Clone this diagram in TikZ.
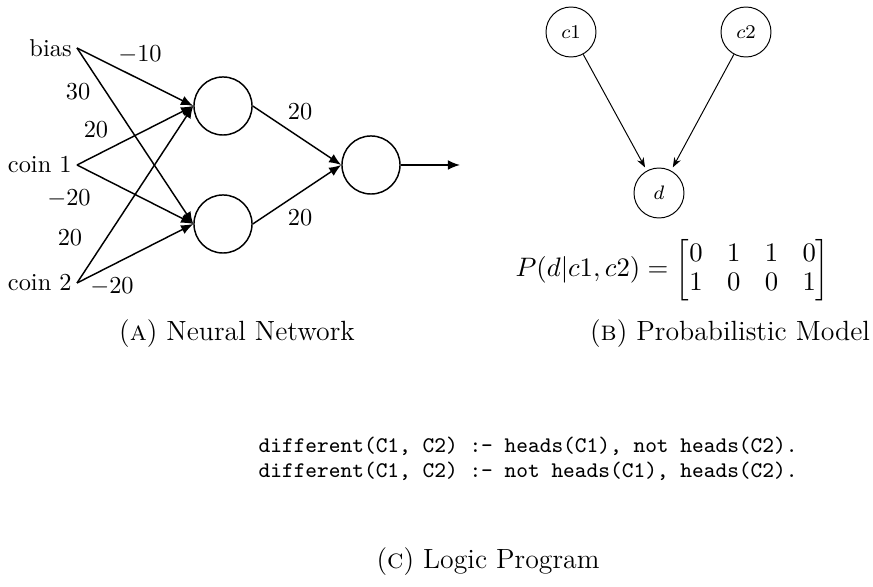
\documentclass[tikz,border=0pt]{standalone}
\usepackage{amsmath}
\usepackage{amssymb}
\usetikzlibrary{arrows.meta}

\begin{document}
\begin{tikzpicture}[x=0.41pt,y=-0.41pt]
  \tikzset{neuron/.style = {shape=circle,draw,semithick,minimum size=23.8pt,inner sep=0pt}}
  \tikzset{innode/.style = {anchor=east,inner sep=2pt}}
  \tikzset{weight/.style = {inner sep=0pt}}
  \tikzset{synapse/.style = {semithick,-{Latex[length=5pt,width=4pt]}}}
  \tikzset{rvnode/.style = {shape=circle,draw,minimum size=20.5pt,inner sep=0pt,font=\footnotesize}}
  \tikzset{depends/.style = {-{Stealth[length=4pt,width=3pt]},shorten >=1.5pt}}
  \tikzset{subcap/.style = {font=\fontsize{11.4}{13}\selectfont}}

  \useasboundingbox (0,0) rectangle (873,587);

  % neural network
	\node[innode] (bias) at (77,48) {bias};
	\node[innode] (coin1) at (77,165) {coin 1};
	\node[innode] (coin2) at (77,283) {coin 2};
	\node[neuron] (h1) at (223,106) {};
	\node[neuron] (h2) at (223,224) {};
	\node[neuron] (out) at (371,165) {};
	\coordinate (result) at (460,165);

       \foreach \from/\to in {bias/h1, bias/h2, coin1/h1, coin1/h2, coin2/h1, coin2/h2, h1/out, h2/out}
    \path[synapse](\from.east) edge (\to.west);
    \path[synapse](out.east) edge (result);

       \foreach \name/\x/\y/\w in {w1/140/55/-10, w2/78/92/30, w3/96/130/20, w4/69/199/-20, w5/70/238/20, w6/112/287/-20, w7/300/112/20, w8/300/218/20}
    \node[weight] (\name) at (\x,\y) {$\w$};

  % probabilistic model
	\node[rvnode] (c1) at (571,32) {$c1$};
	\node[rvnode] (c2) at (746,32) {$c2$};
	\node[rvnode] (d) at (659,193) {$d$};

       \foreach \from/\to in {c1/d, c2/d}
    \path[depends](\from) edge (\to);

	\node[anchor=west,font=\fontsize{10.5}{12}\selectfont] (cpt) at (507,270) {$P(d|c1,c2) = \begin{bmatrix} 0 & 1 & 1 & 0\\ 1 & 0 & 0 & 1 \end{bmatrix}$};

  % logic program
	\node[anchor=west,align=left,font=\ttfamily\fontsize{9.15}{10.25}\selectfont] (code) at (250,459) {different(C1, C2) :- heads(C1), not heads(C2).\\different(C1, C2) :- not heads(C1), heads(C2).};

  % captions
	\node[subcap] (capA) at (237,334) {(\textsc{a}) Neural Network};
	\node[subcap] (capB) at (730,334) {(\textsc{b}) Probabilistic Model};
	\node[subcap] (capC) at (488,562) {(\textsc{c}) Logic Program};
\end{tikzpicture}
\end{document}
